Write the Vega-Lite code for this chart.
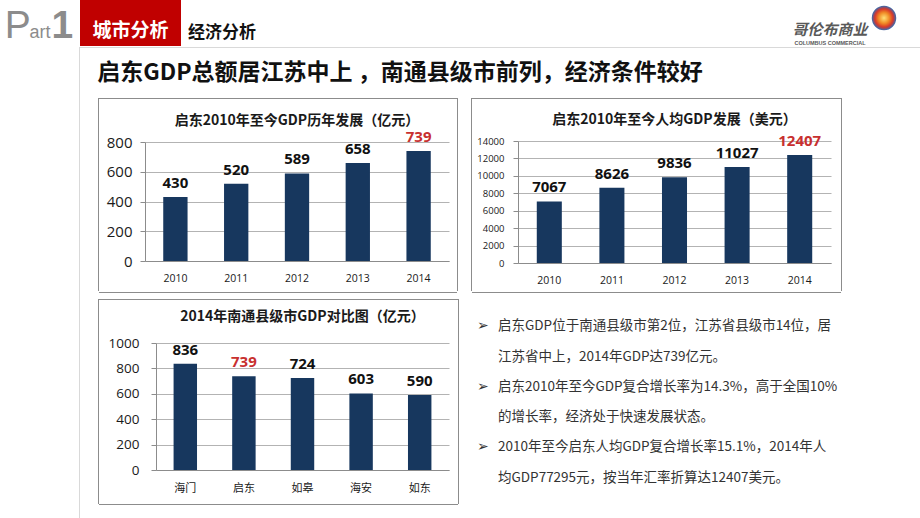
{
 "$schema": "https://vega.github.io/schema/vega-lite/v6.json",
 "padding": 0,
 "autosize": {"type": "pad"},
 "background": "white",
 "spacing": 0,
 "config": {
   "view": {"stroke": null},
   "concat": {"spacing": 0},
   "title": {"font": "Noto Sans CJK SC", "fontSize": 14, "fontWeight": "bold", "color": "#1a1a1a"},
   "axis": {"labelFont": "Open Sans", "labelColor": "#1a1a1a", "domainColor": "#8c8c8c", "tickColor": "#8c8c8c", "gridColor": "#b3b3b3"}
 },
 "vconcat": [
  {"spacing": 0, "hconcat": [
   {"width": 80, "height": 46,
    "encoding": {"x": {"field": "s", "type": "nominal", "sort": null, "scale": {"type": "point", "domain": ["P", "art", "1"], "padding": 0.8}, "axis": null}, "text": {"field": "s"}},
    "layer": [
     {"data": {"values": [{"s": "P"}]}, "mark": {"type": "text", "font": "Liberation Sans", "fontSize": 39, "color": "#8c8c8c", "baseline": "alphabetic", "dy": 14.5}},
     {"data": {"values": [{"s": "art"}]}, "mark": {"type": "text", "font": "Liberation Sans", "fontSize": 18, "color": "#8c8c8c", "baseline": "alphabetic", "dy": 14.5}},
     {"data": {"values": [{"s": "1"}]}, "mark": {"type": "text", "font": "Liberation Sans", "fontWeight": "bold", "fontSize": 39, "color": "#8c8c8c", "baseline": "alphabetic", "dy": 14.5}}
    ]},
   {"width": 101, "height": 46, "view": {"fill": "#c00000"}, "data": {"values": [{"t": "城市分析"}]}, "mark": {"type": "text", "font": "Noto Sans CJK SC", "fontWeight": "bold", "fontSize": 19, "color": "#ffffff", "dy": 8}, "encoding": {"text": {"field": "t"}}},
   {"width": 82, "height": 46, "data": {"values": [{"t": "经济分析"}]}, "mark": {"type": "text", "font": "Noto Sans CJK SC", "fontWeight": "bold", "fontSize": 17, "color": "#111111", "dy": 10}, "encoding": {"text": {"field": "t"}}},
   {"width": 527, "height": 46, "data": {"values": []}, "mark": "text", "encoding": {}},
   {"width": 80, "height": 46, "layer": [
     {"data": {"values": [{"t": "哥伦布商业"}]}, "mark": {"type": "text", "font": "Noto Sans CJK SC", "fontWeight": "bold", "fontStyle": "italic", "fontSize": 15, "color": "#595959", "dy": 7}, "encoding": {"text": {"field": "t"}}},
     {"data": {"values": [{"t": "COLUMBUS COMMERCIAL"}]}, "mark": {"type": "text", "font": "Liberation Sans", "fontWeight": "bold", "fontSize": 5.5, "color": "#595959", "dy": 20}, "encoding": {"text": {"field": "t"}}}
   ]},
   {"width": 28, "height": 36, "data": {"values": [{"k": "logo"}]}, "mark": {"type": "point", "filled": true, "size": 600, "opacity": 1, "strokeWidth": 0, "fill": {"gradient": "radial", "stops": [{"offset": 0, "color": "#ffe27a"}, {"offset": 0.45, "color": "#f08a24"}, {"offset": 0.75, "color": "#d8352a"}, {"offset": 1, "color": "#2f6db5"}]}}, "encoding": {}}
  ]},
  {"spacing": 0, "hconcat": [
   {"width": 79, "height": 1, "data": {"values": []}, "mark": "text", "encoding": {}},
   {"width": 1, "height": 472, "view": {"fill": "#d9d9d9"}, "data": {"values": []}, "mark": "text", "encoding": {}},
   {"spacing": 0, "vconcat": [
    {"width": 840, "height": 1, "view": {"fill": "#d9d9d9"}, "data": {"values": []}, "mark": "text", "encoding": {}},
    {"width": 640, "height": 50, "data": {"values": [{"t": "启东GDP总额居江苏中上 ，南通县级市前列，经济条件较好"}]}, "mark": {"type": "text", "font": "Noto Sans CJK SC", "fontWeight": "bold", "fontSize": 23, "color": "#111111"}, "encoding": {"text": {"field": "t"}}},
    {"spacing": 0, "hconcat": [
     {"width": 18, "height": 1, "data": {"values": []}, "mark": "text", "encoding": {}},
     {"spacing": 0, "hconcat": [
      {"width": 1, "height": 193, "view": {"fill": "#8c8c8c"}, "data": {"values": []}, "mark": "text", "encoding": {}},
      {"spacing": 0, "vconcat": [
       {"width": 358, "height": 1, "view": {"fill": "#8c8c8c"}, "data": {"values": []}, "mark": "text", "encoding": {}},
       {"width": 1, "height": 14, "data": {"values": []}, "mark": "text", "encoding": {}},
       {"spacing": 0, "hconcat": [
        {"width": 7, "height": 1, "data": {"values": []}, "mark": "text", "encoding": {}},
        {"width": 304, "height": 119,
         "title": {"text": "启东2010年至今GDP历年发展（亿元）", "offset": 2.5},
         "data": {"values": [{"year": "2010", "v": 430}, {"year": "2011", "v": 520}, {"year": "2012", "v": 589}, {"year": "2013", "v": 658}, {"year": "2014", "v": 739}]},
         "encoding": {
          "x": {"field": "year", "type": "nominal", "sort": null, "scale": {"paddingInner": 0.6, "paddingOuter": 0.3}, "axis": {"title": null, "labelAngle": 0, "labelFontSize": 10.5, "ticks": false, "tickSize": 0, "labelPadding": 12, "grid": false}},
          "y": {"field": "v", "type": "quantitative", "scale": {"domain": [0, 800], "nice": false}, "axis": {"title": null, "values": [0, 200, 400, 600, 800], "format": "d", "labelFontSize": 15, "tickSize": 5, "labelPadding": 8}}
         },
         "layer": [
          {"mark": {"type": "bar", "color": "#17375e"}},
          {"mark": {"type": "text", "baseline": "alphabetic", "dy": -9, "font": "Open Sans", "fontWeight": "bold", "fontSize": 15},
           "encoding": {"text": {"field": "v", "type": "quantitative", "format": "d"}, "color": {"condition": {"test": "datum.year === '2014'", "value": "#c8302f"}, "value": "#111111"}}}
         ]}
       ]},
       {"width": 1, "height": 8, "data": {"values": []}, "mark": "text", "encoding": {}},
       {"width": 358, "height": 1, "view": {"fill": "#8c8c8c"}, "data": {"values": []}, "mark": "text", "encoding": {}}
      ]},
      {"width": 1, "height": 193, "view": {"fill": "#8c8c8c"}, "data": {"values": []}, "mark": "text", "encoding": {}}
     ]},
     {"width": 13, "height": 1, "data": {"values": []}, "mark": "text", "encoding": {}},
     {"spacing": 0, "hconcat": [
      {"width": 1, "height": 193, "view": {"fill": "#8c8c8c"}, "data": {"values": []}, "mark": "text", "encoding": {}},
      {"spacing": 0, "vconcat": [
       {"width": 369, "height": 1, "view": {"fill": "#8c8c8c"}, "data": {"values": []}, "mark": "text", "encoding": {}},
       {"width": 1, "height": 14, "data": {"values": []}, "mark": "text", "encoding": {}},
       {"spacing": 0, "hconcat": [
        {"width": 4, "height": 1, "data": {"values": []}, "mark": "text", "encoding": {}},
        {"width": 313, "height": 122,
         "title": {"text": "启东2010年至今人均GDP发展（美元）", "offset": 6.4},
         "data": {"values": [{"year": "2010", "v": 7067}, {"year": "2011", "v": 8626}, {"year": "2012", "v": 9836}, {"year": "2013", "v": 11027}, {"year": "2014", "v": 12407}]},
         "encoding": {
          "x": {"field": "year", "type": "nominal", "sort": null, "scale": {"paddingInner": 0.6, "paddingOuter": 0.3}, "axis": {"title": null, "labelAngle": 0, "labelFontSize": 10.5, "ticks": false, "tickSize": 0, "labelPadding": 12, "grid": false}},
          "y": {"field": "v", "type": "quantitative", "scale": {"domain": [0, 14000], "nice": false}, "axis": {"title": null, "values": [0, 2000, 4000, 6000, 8000, 10000, 12000, 14000], "format": "d", "labelFontSize": 9.5, "tickSize": 5, "labelPadding": 9}}
         },
         "layer": [
          {"mark": {"type": "bar", "color": "#17375e"}},
          {"mark": {"type": "text", "baseline": "alphabetic", "dy": -9, "font": "Open Sans", "fontWeight": "bold", "fontSize": 15},
           "encoding": {"text": {"field": "v", "type": "quantitative", "format": "d"}, "color": {"condition": {"test": "datum.year === '2014'", "value": "#c8302f"}, "value": "#111111"}}}
         ]}
       ]},
       {"width": 1, "height": 6, "data": {"values": []}, "mark": "text", "encoding": {}},
       {"width": 369, "height": 1, "view": {"fill": "#8c8c8c"}, "data": {"values": []}, "mark": "text", "encoding": {}}
      ]},
      {"width": 1, "height": 193, "view": {"fill": "#8c8c8c"}, "data": {"values": []}, "mark": "text", "encoding": {}}
     ]}
    ]},
    {"width": 1, "height": 6, "data": {"values": []}, "mark": "text", "encoding": {}},
    {"spacing": 0, "hconcat": [
     {"width": 18, "height": 1, "data": {"values": []}, "mark": "text", "encoding": {}},
     {"spacing": 0, "hconcat": [
      {"width": 1, "height": 205, "view": {"fill": "#8c8c8c"}, "data": {"values": []}, "mark": "text", "encoding": {}},
      {"spacing": 0, "vconcat": [
       {"width": 359, "height": 1, "view": {"fill": "#8c8c8c"}, "data": {"values": []}, "mark": "text", "encoding": {}},
       {"width": 1, "height": 10, "data": {"values": []}, "mark": "text", "encoding": {}},
       {"spacing": 0, "hconcat": [
        {"width": 9, "height": 1, "data": {"values": []}, "mark": "text", "encoding": {}},
        {"width": 293, "height": 127,
         "title": {"text": "2014年南通县级市GDP对比图（亿元）", "offset": 11.75},
         "data": {"values": [{"city": "海门", "v": 836}, {"city": "启东", "v": 739}, {"city": "如皋", "v": 724}, {"city": "海安", "v": 603}, {"city": "如东", "v": 590}]},
         "encoding": {
          "x": {"field": "city", "type": "nominal", "sort": null, "scale": {"paddingInner": 0.6, "paddingOuter": 0.3}, "axis": {"title": null, "labelAngle": 0, "labelFont": "Noto Sans CJK SC", "labelFontSize": 11, "ticks": false, "tickSize": 0, "labelPadding": 12, "grid": false}},
          "y": {"field": "v", "type": "quantitative", "scale": {"domain": [0, 1000], "nice": false}, "axis": {"title": null, "values": [0, 200, 400, 600, 800, 1000], "format": "d", "labelFontSize": 13.5, "tickSize": 5, "labelPadding": 12}}
         },
         "layer": [
          {"mark": {"type": "bar", "color": "#17375e"}},
          {"mark": {"type": "text", "baseline": "alphabetic", "dy": -9, "font": "Open Sans", "fontWeight": "bold", "fontSize": 15},
           "encoding": {"text": {"field": "v", "type": "quantitative", "format": "d"}, "color": {"condition": {"test": "datum.city === '启东'", "value": "#c8302f"}, "value": "#111111"}}}
         ]}
       ]},
       {"width": 1, "height": 11, "data": {"values": []}, "mark": "text", "encoding": {}},
       {"width": 359, "height": 1, "view": {"fill": "#8c8c8c"}, "data": {"values": []}, "mark": "text", "encoding": {}}
      ]},
      {"width": 1, "height": 205, "view": {"fill": "#8c8c8c"}, "data": {"values": []}, "mark": "text", "encoding": {}}
     ]},
     {"width": 18, "height": 1, "data": {"values": []}, "mark": "text", "encoding": {}},
     {"width": 21, "height": 206,
      "data": {"values": [
       {"line": 1, "col": "b", "t": "➢"},
       {"line": 1, "col": "t", "t": "启东GDP位于南通县级市第2位，江苏省县级市14位，居"},
       {"line": 2, "col": "t", "t": "江苏省中上，2014年GDP达739亿元。"},
       {"line": 3, "col": "b", "t": "➢"},
       {"line": 3, "col": "t", "t": "启东2010年至今GDP复合增长率为14.3%，高于全国10%"},
       {"line": 4, "col": "t", "t": "的增长率，经济处于快速发展状态。"},
       {"line": 5, "col": "b", "t": "➢"},
       {"line": 5, "col": "t", "t": "2010年至今启东人均GDP复合增长率15.1%，2014年人"},
       {"line": 6, "col": "t", "t": "均GDP77295元，按当年汇率折算达12407美元。"}
      ]},
      "mark": {"type": "text", "align": "left", "baseline": "middle", "font": "Noto Sans CJK SC", "fontSize": 13.5, "color": "#333333"},
      "encoding": {
       "x": {"field": "col", "type": "nominal", "sort": null, "scale": {"type": "point", "domain": ["b", "t"], "padding": 0}, "axis": null},
       "y": {"field": "line", "type": "ordinal", "scale": {"type": "point", "padding": 0.9}, "axis": null},
       "text": {"field": "t"}
      }}
    ]}
   ]}
  ]}
 ]
}
